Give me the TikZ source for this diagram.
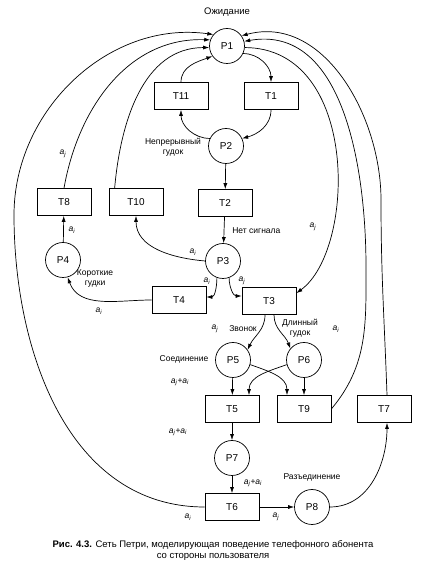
\documentclass[tikz,border=0pt]{standalone}
\usepackage{fontspec}
\setmainfont{Liberation Sans}
\usetikzlibrary{arrows.meta}

\newcommand{\asub}[1]{\textit{a}\textsubscript{\textit{#1}}}

\begin{document}
\begin{tikzpicture}[x=1pt,y=1pt,line width=0.7pt,
    place/.style={circle,draw,minimum size=35pt,inner sep=0pt,font=\fontsize{10}{12}\selectfont},
    trans/.style={rectangle,draw,minimum width=54pt,minimum height=27pt,inner sep=0pt,font=\fontsize{10}{12}\selectfont},
    arc/.style={-{Latex[length=6pt,width=4pt]}},
    note/.style={font=\fontsize{8.5}{10}\selectfont,inner sep=0pt,align=center}]
  \useasboundingbox (0,0) rectangle (427,567);

  % places
  \node[place] (P1) at (227,521) {P1};
  \node[place] (P2) at (226,421) {P2};
  \node[place] (P3) at (223,306) {P3};
  \node[place] (P4) at (63,307) {P4};
  \node[place] (P5) at (233,207) {P5};
  \node[place] (P6) at (304,207) {P6};
  \node[place] (P7) at (232,109) {P7};
  \node[place] (P8) at (312,60) {P8};

  % transitions
  \node[trans] (T11) at (181,471) {T11};
  \node[trans] (T1) at (271,471) {T1};
  \node[trans] (T8) at (64,365) {T8};
  \node[trans] (T10) at (136,365) {T10};
  \node[trans] (T2) at (225,364) {T2};
  \node[trans] (T4) at (179,267) {T4};
  \node[trans] (T3) at (269,266) {T3};
  \node[trans] (T5) at (232,158) {T5};
  \node[trans] (T9) at (304,158) {T9};
  \node[trans] (T7) at (384,158) {T7};
  \node[trans] (T6) at (232,60) {T6};

  % texts
  \node[note,font=\fontsize{9.5}{11}\selectfont] (wait) at (227,555) {Ожидание};
  \node[note] (cont) at (173,420) {Непрерывный\\гудок};
  \node[note,anchor=west] (nosig) at (232,336) {Нет сигнала};
  \node[note] (short) at (95,289) {Короткие\\гудки};
  \node[note] (ring) at (243,238) {Звонок};
  \node[note] (long) at (300,239) {Длинный\\гудок};
  \node[note] (conn) at (184,208) {Соединение};
  \node[note] (disc) at (312,90) {Разъединение};

  \node[note] (l1) at (63,413) {\asub{j}};
  \node[note] (l2) at (72,337) {\asub{i}};
  \node[note] (l3) at (193,315) {\asub{i}};
  \node[note] (l4) at (207,286) {\asub{i}};
  \node[note] (l5) at (242,286) {\asub{j}};
  \node[note] (l6) at (99,256) {\asub{i}};
  \node[note] (l7) at (313,340) {\asub{j}};
  \node[note] (l8) at (215,238) {\asub{j}};
  \node[note] (l9) at (336,238) {\asub{i}};
  \node[note] (l10) at (180,185) {\asub{j}+\asub{i}};
  \node[note] (l11) at (178,135) {\asub{j}+\asub{i}};
  \node[note] (l12) at (253,84) {\asub{j}+\asub{i}};
  \node[note] (l13) at (188,50) {\asub{i}};
  \node[note] (l14) at (276,50) {\asub{j}};

  % arcs round P1 and P2
  \draw[arc] (P1.-25) to[out=0,in=90] (T1.north);
  \draw[arc] (T1.south) to[out=-90,in=15] (P2.25);
  \draw[arc] (P2.155) to[out=180,in=-90] (T11.south);
  \draw[arc] (T11.north) to[out=90,in=200] (P1.215);
  \draw[arc] (P2) -- (T2);
  \draw[arc] (T2) -- (P3);

  % long arcs back to P1
  \draw[arc] (T6.west) to[out=180,in=-90] (14,352) to[out=90,in=172] (P1.140);
  \draw[arc] (T8.north) to[out=80,in=178] (P1.160);
  \draw[arc] ([xshift=6pt]T10.north west) to[out=85,in=180] (P1.185);
  \draw[arc] ([xshift=3pt]T7.north) to[out=92,in=-90] (381,367) to[out=90,in=15] (P1.35);
  \draw[arc] (T9.east) to[out=50,in=-90] (366,300) to[out=90,in=10] (P1.15);
  \draw[arc] (P1.-5) .. controls (360,519) and (356,317) .. ([yshift=-6pt]T3.north east);

  % arcs out of P3
  \draw[arc] (P3.west) to[out=175,in=-90] (T10.south);
  \draw[arc] (P3.-110) to[out=-90,in=0] ([yshift=3pt]T4.east);
  \draw[arc] (P3.-70) to[out=-90,in=180] ([yshift=5pt]T3.west);
  \draw[arc] (T4.west) to[out=180,in=-70] (P4.-75);
  \draw[arc] (P4) -- (T8);

  % lower part
  \draw[arc] ([xshift=-4pt]T3.south) to[out=-90,in=65] (P5.35);
  \draw[arc] ([xshift=5pt]T3.south) to[out=-90,in=110] (P6.140);
  \draw[arc] (P5) -- (T5);
  \draw[arc] (P6) -- (T9);
  \draw[arc] (P5.-15) to[out=-20,in=90] ([xshift=-17pt]T9.north);
  \draw[arc] (P6.195) to[out=200,in=90] ([xshift=17pt]T5.north);
  \draw[arc] (T5) -- (P7);
  \draw[arc] (P7) -- (T6);
  \draw[arc] (T6) -- (P8);
  \draw[arc] (P8.east) to[out=0,in=-90] ([xshift=3pt]T7.south);

  % caption
  \node[note,font=\fontsize{9.5}{11}\selectfont] (cap) at (213,16)
    {\textbf{Рис. 4.3.} Сеть Петри, моделирующая поведение телефонного абонента\\со стороны пользователя};
\end{tikzpicture}
\end{document}
